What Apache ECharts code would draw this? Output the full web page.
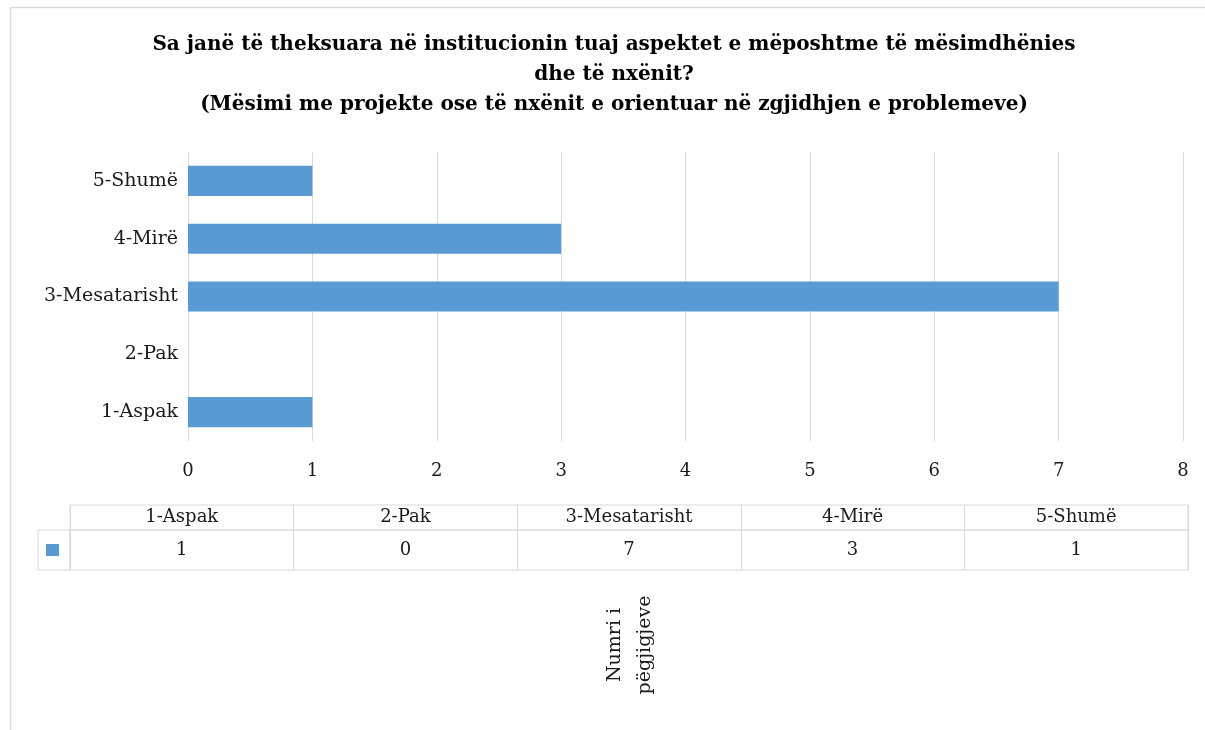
<!DOCTYPE html>
<html>
<head>
<meta charset="utf-8">
<script src="https://cdn.jsdelivr.net/npm/echarts@6/dist/echarts.min.js"></script>
<style>
    html, body { margin: 0; padding: 0; background: #fff; }
    #chart { width: 1205px; height: 730px; }
</style>
</head>
<body>
<div id="chart"></div>
<script>
// te dhenat
var categories = ['1-Aspak', '2-Pak', '3-Mesatarisht', '4-Mirë', '5-Shumë'];
var counts = [1, 0, 7, 3, 1];
var seriesName = 'Numri i pëgjigjeve';
var titleLines = [
    'Sa janë të theksuara në institucionin tuaj aspektet e mëposhtme të mësimdhënies',
    'dhe të nxënit?',
    '(Mësimi me projekte ose të nxënit e orientuar në zgjidhjen e problemeve)'
];

var serif = 'DejaVu Serif';
var gridColor = '#d9d9d9';
var textColor = '#1a1a1a';

var myChart = echarts.init(document.getElementById('chart'));

var tableAxis = function (gridIndex, formatter, margin) {
    return {
        type: 'category',
        gridIndex: gridIndex,
        data: categories,
        boundaryGap: true,
        axisLine: { show: false },
        axisTick: { show: false },
        splitLine: { show: true, interval: 0, lineStyle: { color: gridColor, width: 1 } },
        axisLabel: {
            interval: 0,
            margin: margin,
            verticalAlign: 'middle',
            fontFamily: serif,
            fontSize: 18,
            color: textColor,
            formatter: formatter
        }
    };
};

var option = {
    animation: false,
    backgroundColor: '#fff',
    title: {
        text: titleLines.join('\n'),
        left: 614,
        top: 30,
        padding: 0,
        textAlign: 'center',
        textStyle: {
            fontFamily: serif,
            fontWeight: 'bold',
            fontSize: 20,
            lineHeight: 30,
            color: '#000'
        }
    },
    legend: {
        data: [seriesName],
        left: 46,
        top: 544,
        padding: 0,
        icon: 'rect',
        itemWidth: 13,
        itemHeight: 12,
        itemGap: 0,
        formatter: function () { return ''; },
        selectedMode: false
    },
    grid: [
        { left: 188, right: 22, top: 152, bottom: 289, containLabel: false },
        { left: 70, right: 17, top: 505, height: 25, show: true, borderColor: gridColor, borderWidth: 1 },
        { left: 70, right: 17, top: 530, height: 40, show: true, borderColor: gridColor, borderWidth: 1 },
        { left: 38, width: 32, top: 530, height: 40, show: true, borderColor: gridColor, borderWidth: 1 }
    ],
    xAxis: [
        {
            type: 'value',
            gridIndex: 0,
            min: 0,
            max: 8,
            interval: 1,
            axisLine: { show: false },
            axisTick: { show: false },
            splitLine: { show: true, lineStyle: { color: gridColor, width: 1 } },
            axisLabel: { margin: 21, fontFamily: serif, fontSize: 18, color: textColor }
        },
        tableAxis(1, null, -13),
        tableAxis(2, function (v, i) { return String(counts[i]); }, -20),
        { type: 'value', gridIndex: 3, show: false }
    ],
    yAxis: [
        {
            type: 'category',
            gridIndex: 0,
            data: categories,
            axisLine: { show: false },
            axisTick: { show: false },
            axisLabel: { margin: 10, fontFamily: serif, fontSize: 19, color: textColor }
        },
        { type: 'value', gridIndex: 1, show: false },
        { type: 'value', gridIndex: 2, show: false },
        { type: 'value', gridIndex: 3, show: false }
    ],
    series: [
        {
            name: seriesName,
            type: 'bar',
            xAxisIndex: 0,
            yAxisIndex: 0,
            data: counts,
            barWidth: '52%',
            itemStyle: { color: '#5b9bd5' }
        }
    ],
    graphic: [
        {
            type: 'rect',
            shape: { x: 10.5, y: 7.5, width: 1300, height: 800 },
            style: { fill: null, stroke: gridColor, lineWidth: 1.5 },
            silent: true
        },
        {
            type: 'text',
            x: 630,
            y: 645,
            rotation: Math.PI / 2,
            style: {
                text: 'Numri i\npëgjigjeve',
                fontFamily: serif,
                fontSize: 19,
                lineHeight: 30,
                fill: textColor,
                align: 'center',
                verticalAlign: 'middle'
            }
        }
    ]
};
myChart.setOption(option);
</script>
</body>
</html>
